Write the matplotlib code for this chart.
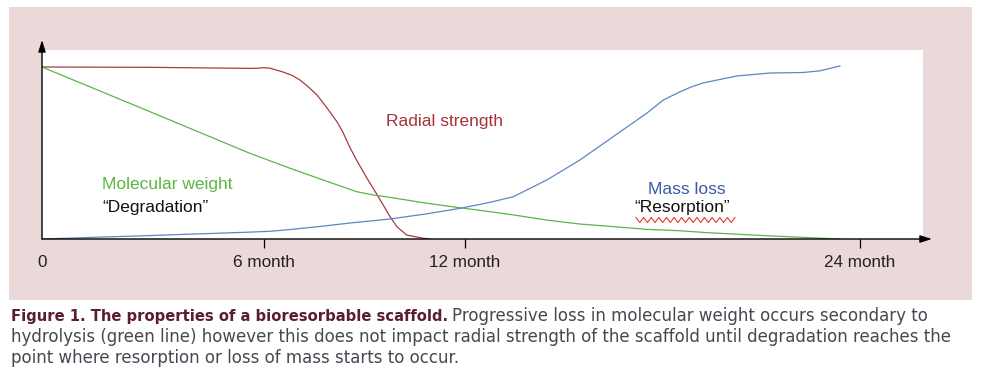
import numpy as np
import matplotlib
matplotlib.use("Agg")
import matplotlib.pyplot as plt
from matplotlib.patches import Rectangle
from matplotlib.lines import Line2D

# time axis (schematic, months) and normalised property values
red_t = [0, 3.17, 6.1, 6.34, 6.48, 6.69, 7.07, 7.34, 7.57, 7.8, 8.07, 8.25, 8.45, 8.66, 8.83,
         9.04, 9.24, 9.53, 9.87, 10.21, 10.41, 10.7, 11.19, 11.38]
red_v = [1.0, 0.998, 0.992, 0.993, 0.996, 0.993, 0.971, 0.951, 0.924, 0.887, 0.837, 0.791,
         0.738, 0.68, 0.62, 0.53, 0.455, 0.355, 0.245, 0.13, 0.072, 0.023, 0.004, 0.0]

green_t = [0, 3.17, 6.1, 7.28, 8.25, 9.23, 9.72, 10.21, 11.19, 12.17, 13.14, 13.83, 14.81,
           15.78, 16.76, 17.74, 18.72, 19.5, 21.46, 23.41]
green_v = [1.0, 0.74, 0.498, 0.411, 0.343, 0.275, 0.256, 0.242, 0.211, 0.184, 0.159, 0.14,
           0.11, 0.087, 0.072, 0.056, 0.048, 0.037, 0.017, 0.0]

blue_t = [0, 3.17, 6.1, 6.7, 7.28, 8.16, 9.04, 10.21, 11.24, 12.26, 13.14, 13.83, 14.81, 15.78,
          16.76, 17.74, 18.23, 18.72, 19.01, 19.39, 20.39, 21.36, 22.33, 22.83, 23.41]
blue_v = [0.0, 0.02, 0.04, 0.045, 0.055, 0.073, 0.093, 0.116, 0.145, 0.178, 0.213, 0.246, 0.343,
          0.459, 0.595, 0.731, 0.808, 0.856, 0.881, 0.907, 0.948, 0.965, 0.968, 0.978, 1.006]

tick_pos = [0, 6.5, 12.4, 24]
tick_labels = ["0", "6 month", "12 month", "24 month"]

caption_bold = "Figure 1. The properties of a bioresorbable scaffold."
caption_lines = [
    "Progressive loss in molecular weight occurs secondary to",
    "hydrolysis (green line) however this does not impact radial strength of the scaffold until degradation reaches the",
    "point where resorption or loss of mass starts to occur.",
]

W, H = 981, 389
fig = plt.figure(figsize=(W / 100, H / 100), dpi=100)
plt.rcParams['font.family'] = ['Liberation Sans', 'DejaVu Sans']

# pink panel behind the chart
fig.add_artist(Rectangle((9 / W, 1 - 300 / H), 963 / W, 293 / H, transform=fig.transFigure,
                         facecolor="#ebd8d8", edgecolor="none", zorder=0))

ax = fig.add_axes([42 / W, 1 - 239 / H, 881 / W, 189 / H])
ax.set_facecolor("white")
ax.set_xlim(0, 881 * 24 / 818)
ax.set_ylim(0, 189 / 172)

ax.plot(red_t, red_v, color="#a83a3c", lw=0.9)
ax.plot(green_t, green_v, color="#5cb54a", lw=0.9)
ax.plot(blue_t, blue_v, color="#5e86c2", lw=0.9)

for s in ax.spines.values():
    s.set_visible(False)
ax.set_yticks([])
ax.set_xticks(tick_pos, tick_labels, fontsize=12.3, color="#222222")
ax.tick_params(axis="x", direction="out", length=6.5, width=0.9, pad=5, color="black")
ax.xaxis.get_major_ticks()[0].tick1line.set_visible(False)

# arrowed axes
arr = dict(arrowstyle="-|>,head_length=0.7,head_width=0.22", color="black", lw=1.0,
           shrinkA=0, shrinkB=0)
ax.annotate("", xy=(1.0102, 0), xytext=(0, 0), xycoords="axes fraction",
            arrowprops=arr, annotation_clip=False)
ax.annotate("", xy=(0, 1.053), xytext=(0, 0), xycoords="axes fraction",
            arrowprops=arr, annotation_clip=False)

fs = 12.5
ax.text(10.08, 0.657, "Radial strength", color="#a8323a", fontsize=fs, va="baseline")
ax.text(1.76, 0.29, "Molecular weight", color="#5db545", fontsize=fs, va="baseline")
ax.text(1.76, 0.157, "\u201cDegradation\u201d", color="#111111", fontsize=fs, va="baseline")
ax.text(17.78, 0.262, "Mass loss", color="#3c59a8", fontsize=fs, va="baseline")
ax.text(17.38, 0.155, "\u201cResorption\u201d", color="#111111", fontsize=fs, va="baseline")

# red squiggle under "Resorption"
zx = np.linspace(636, 735, 27)
zy = np.where(np.arange(27) % 2 == 0, 217.5, 222.5)
fig.add_artist(Line2D(zx / W, 1 - zy / H, transform=fig.transFigure,
                      color="#e8352e", lw=0.8))

# caption, sized so the lines span the same width as in the figure
cap_font = ['DejaVu Sans']
renderer = fig.canvas.get_renderer()


def fitted(x, y, s, width, **kw):
    t = fig.text(x / W, 1 - y / H, s, fontsize=10, family=cap_font, va="baseline", **kw)
    w = t.get_window_extent(renderer).width
    t.set_fontsize(10 * width / w)
    return t


fitted(11, 321, caption_bold, 436, fontweight="bold", color="#5a1e2e")
body = fitted(11, 342, caption_lines[1], 945, color="#474752")
size = body.get_fontsize()
fig.text(452 / W, 1 - 321 / H, caption_lines[0], fontsize=size, family=cap_font,
         color="#474752", va="baseline")
fig.text(11 / W, 1 - 363 / H, caption_lines[2], fontsize=size, family=cap_font,
         color="#474752", va="baseline")

fig.savefig("out.png", dpi=100)
